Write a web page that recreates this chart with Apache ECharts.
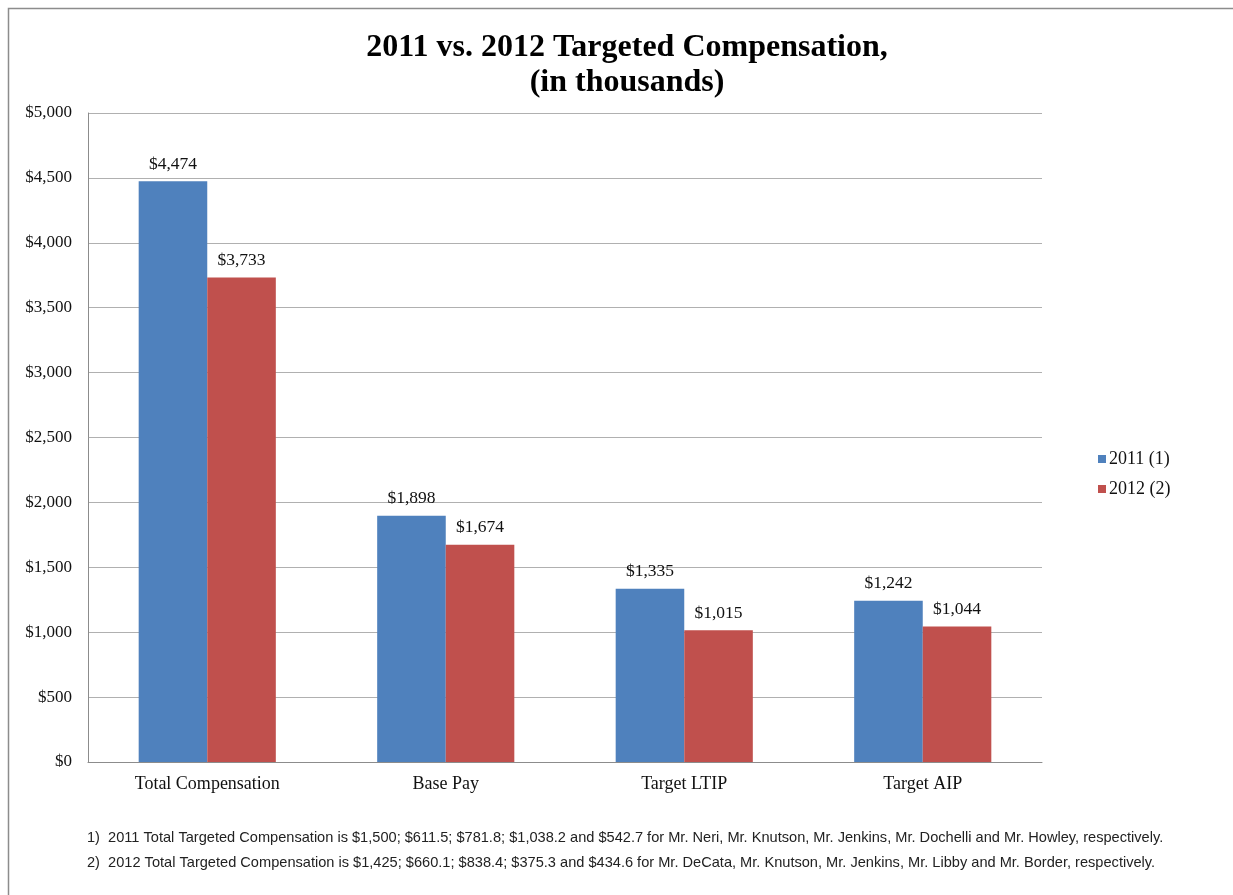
<!DOCTYPE html>
<html><head><meta charset="utf-8">
<script src="https://cdn.jsdelivr.net/npm/echarts@6/dist/echarts.min.js"></script>
<style>html,body{margin:0;padding:0;background:#fff}#c{width:1233px;height:895px}</style>
</head><body><div id="c"></div>
<script>
var categories = ['Total Compensation', 'Base Pay', 'Target LTIP', 'Target AIP'];
var values2011 = [4474, 1898, 1335, 1242];
var values2012 = [3733, 1674, 1015, 1044];
var seriesNames = ['2011 (1)', '2012 (2)'];
var footnotes = [
  '1)  2011 Total Targeted Compensation is $1,500; $611.5; $781.8; $1,038.2 and $542.7 for Mr. Neri, Mr. Knutson, Mr. Jenkins, Mr. Dochelli and Mr. Howley, respectively.',
  '2)  2012 Total Targeted Compensation is $1,425; $660.1; $838.4; $375.3 and $434.6 for Mr. DeCata, Mr. Knutson, Mr. Jenkins, Mr. Libby and Mr. Border, respectively.'
];

function money(v){ return '$' + v.toLocaleString('en-US'); }
var serif = '"Liberation Serif", "Times New Roman", serif';
var sans = '"Liberation Sans", Arial, sans-serif';

var chart = echarts.init(document.getElementById('c'));
chart.setOption({
  animation: false,
  backgroundColor: '#fff',
  graphic: [{
    type: 'rect', shape: {x: 8.5, y: 8.5, width: 1240, height: 900},
    style: {fill: 'none', stroke: '#8c8c8c', lineWidth: 1.5}
  }],
  title: [{
    text: '2011 vs. 2012 Targeted Compensation,\n(in thousands)',
    left: 622, top: 25, textAlign: 'center',
    textStyle: {fontFamily: serif, fontWeight: 'bold', fontSize: 32, color: '#000', lineHeight: 35}
  }, {
    text: footnotes[0], left: 82, top: 825,
    textStyle: {fontFamily: sans, fontWeight: 'normal', fontSize: 14.6, color: '#222'}
  }, {
    text: footnotes[1], left: 82, top: 850,
    textStyle: {fontFamily: sans, fontWeight: 'normal', fontSize: 14.6, color: '#222'}
  }],
  legend: {
    orient: 'vertical', left: 1093, top: 445, itemWidth: 8, itemHeight: 8, itemGap: 12,
    icon: 'rect',
    textStyle: {fontFamily: serif, fontSize: 18, color: '#111', padding: [0,0,0,-2]},
    data: seriesNames
  },
  grid: {left: 88, right: 191, top: 113, bottom: 133, containLabel: false},
  xAxis: {
    type: 'category', data: categories,
    axisLine: {lineStyle: {color: '#8c8c8c'}},
    axisTick: {show: false},
    axisLabel: {fontFamily: serif, fontSize: 18, color: '#111', margin: 13}
  },
  yAxis: {
    type: 'value', min: 0, max: 5000, interval: 500,
    axisLine: {show: true, lineStyle: {color: '#8c8c8c'}},
    axisTick: {show: false},
    splitLine: {lineStyle: {color: '#b0b0b0'}},
    axisLabel: {fontFamily: serif, fontSize: 17, color: '#111', margin: 16, formatter: money}
  },
  series: [{
    name: seriesNames[0], type: 'bar', data: values2011, barGap: '0%', barCategoryGap: '42.5%',
    itemStyle: {color: '#4F81BD'},
    label: {show: true, position: 'top', distance: 8, fontFamily: serif, fontSize: 17.5, color: '#111', formatter: function(p){return money(p.value);}}
  }, {
    name: seriesNames[1], type: 'bar', data: values2012,
    itemStyle: {color: '#C0504D'},
    label: {show: true, position: 'top', distance: 8, fontFamily: serif, fontSize: 17.5, color: '#111', formatter: function(p){return money(p.value);}}
  }]
});
</script></body></html>
